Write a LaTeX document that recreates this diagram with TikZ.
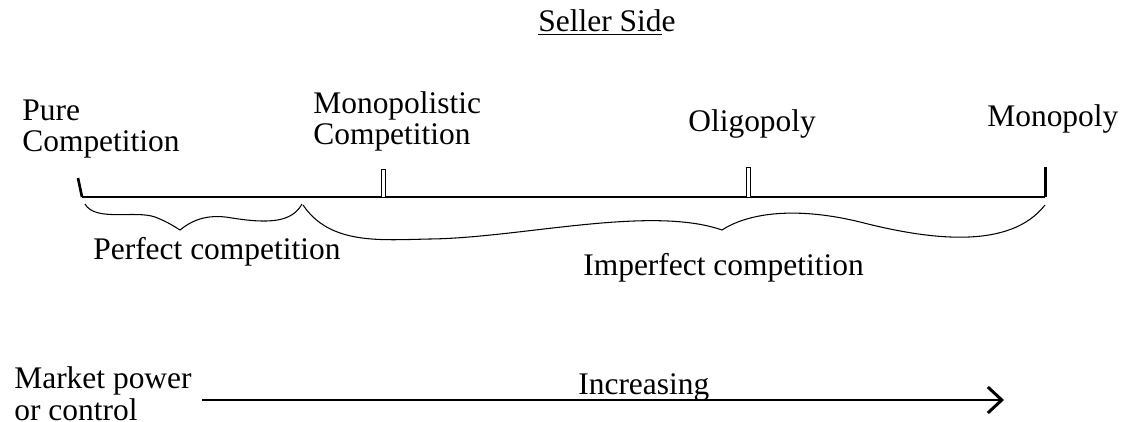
\documentclass[tikz,border=0pt]{standalone}
\usepackage{fontspec}
\setmainfont{Liberation Serif}
\usetikzlibrary{positioning,arrows.meta}

\begin{document}
\begin{tikzpicture}[x=0.02cm, y=-0.02cm, every node/.style={font=\fontsize{17.9}{18.2}\selectfont, inner sep=0pt, anchor=base west, align=left}]
    \useasboundingbox (0,0) rectangle (1123,422);
    \node (seller) at (538,32) {\underline{Seller Sid}e};
    \node (pure) at (22,152) {Pure\\Competition};
    \node (monocomp) at (313,145) {Monopolistic\\Competition};
    \node (oligo) at (688,132) {Oligopoly};
    \node (mono) at (987,127) {Monopoly};
    \node (perfect) at (93,260) {Perfect competition};
    \node (imperfect) at (583,276) {Imperfect competition};
    \node (power) at (14,420) {Market power\\or control};
    \node (incr) at (578,395) {Increasing};
    % scale line
    \coordinate (lstart) at (82,197);
    \coordinate (lend) at (1045,197);
    \draw[line width=1.7pt] (lstart) -- (lend);
    \draw[line width=1.5pt] (78,178) -- (lstart);
    \draw[line width=1.7pt] (lend) -- (1045,167);
    \draw[line width=0.4pt, fill=white] (381,169) rectangle (385,197);
    \draw[line width=0.4pt, fill=white] (746,167) rectangle (750,197);
    % braces
    \draw[line width=0.6pt] (85,204) .. controls (95,222) and (135,210) .. (155,217)
        .. controls (168,222) and (175,227) .. (180,230)
        .. controls (190,222) and (205,213) .. (232,218)
        .. controls (270,224) and (292,222) .. (302,204);
    \draw[line width=0.6pt] (303,205) .. controls (330,245) and (380,240) .. (430,239)
        .. controls (520,238) and (650,205) .. (722,230)
        .. controls (745,215) and (790,205) .. (860,222)
        .. controls (930,240) and (1010,250) .. (1045,205);
    % power arrow
    \coordinate (astart) at (202,400);
    \coordinate (aend) at (1004,400);
    \draw[line width=1.7pt, -{Straight Barb[length=0.28cm, width=0.52cm]}] (astart) -- (aend);
\end{tikzpicture}
\end{document}
